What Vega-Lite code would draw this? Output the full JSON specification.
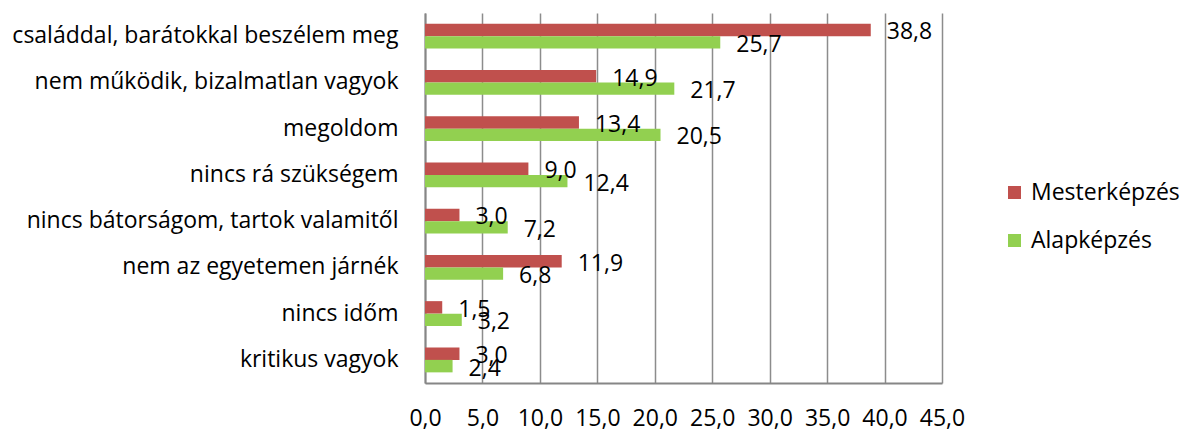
{
  "$schema": "https://vega.github.io/schema/vega-lite/v6.json",
  "width": 517,
  "height": 370,
  "autosize": {"type": "none"},
  "padding": {"left": 425, "top": 13, "right": 241, "bottom": 47},
  "background": "white",
  "config": {
    "locale": {"number": {"decimal": ",", "thousands": " ", "grouping": [3], "currency": ["", ""]}},
    "view": {"stroke": null},
    "font": "Open Sans"
  },
  "data": {
    "values": [
      {"kategoria": "családdal, barátokkal beszélem meg", "kepzes": "Mesterképzés", "ertek": 38.8},
      {"kategoria": "családdal, barátokkal beszélem meg", "kepzes": "Alapképzés", "ertek": 25.7},
      {"kategoria": "nem működik, bizalmatlan vagyok", "kepzes": "Mesterképzés", "ertek": 14.9},
      {"kategoria": "nem működik, bizalmatlan vagyok", "kepzes": "Alapképzés", "ertek": 21.7},
      {"kategoria": "megoldom", "kepzes": "Mesterképzés", "ertek": 13.4},
      {"kategoria": "megoldom", "kepzes": "Alapképzés", "ertek": 20.5},
      {"kategoria": "nincs rá szükségem", "kepzes": "Mesterképzés", "ertek": 9.0},
      {"kategoria": "nincs rá szükségem", "kepzes": "Alapképzés", "ertek": 12.4},
      {"kategoria": "nincs bátorságom, tartok valamitől", "kepzes": "Mesterképzés", "ertek": 3.0},
      {"kategoria": "nincs bátorságom, tartok valamitől", "kepzes": "Alapképzés", "ertek": 7.2},
      {"kategoria": "nem az egyetemen járnék", "kepzes": "Mesterképzés", "ertek": 11.9},
      {"kategoria": "nem az egyetemen járnék", "kepzes": "Alapképzés", "ertek": 6.8},
      {"kategoria": "nincs időm", "kepzes": "Mesterképzés", "ertek": 1.5},
      {"kategoria": "nincs időm", "kepzes": "Alapképzés", "ertek": 3.2},
      {"kategoria": "kritikus vagyok", "kepzes": "Mesterképzés", "ertek": 3.0},
      {"kategoria": "kritikus vagyok", "kepzes": "Alapképzés", "ertek": 2.4}
    ]
  },
  "encoding": {
    "y": {
      "field": "kategoria",
      "type": "nominal",
      "sort": ["családdal, barátokkal beszélem meg", "nem működik, bizalmatlan vagyok", "megoldom", "nincs rá szükségem", "nincs bátorságom, tartok valamitől", "nem az egyetemen járnék", "nincs időm", "kritikus vagyok"],
      "scale": {"paddingInner": 0.46, "paddingOuter": 0.23},
      "axis": {
        "title": null,
        "domainColor": "#868686",
        "domainWidth": 2,
        "ticks": false,
        "labelFontSize": 23,
        "labelPadding": 27,
        "labelColor": "black",
        "labelLimit": 0,
        "labelFont": "Open Sans"
      }
    },
    "yOffset": {
      "field": "kepzes",
      "type": "nominal",
      "sort": ["Mesterképzés", "Alapképzés"],
      "scale": {"paddingInner": 0, "paddingOuter": 0}
    },
    "x": {
      "field": "ertek",
      "type": "quantitative",
      "scale": {"domain": [0, 45], "nice": false},
      "axis": {
        "title": null,
        "values": [0, 5, 10, 15, 20, 25, 30, 35, 40, 45],
        "format": ".1f",
        "grid": true,
        "gridColor": "#8c8c8c",
        "gridWidth": 1.5,
        "domainColor": "#868686",
        "domainWidth": 2,
        "ticks": false,
        "tickSize": 0,
        "labelFontSize": 23,
        "labelPadding": 35,
        "labelBaseline": "middle",
        "labelColor": "black",
        "labelFlush": false,
        "labelOverlap": false,
        "labelFont": "Open Sans"
      }
    }
  },
  "layer": [
    {
      "mark": {"type": "bar"},
      "encoding": {
        "color": {
          "field": "kepzes",
          "type": "nominal",
          "scale": {"domain": ["Mesterképzés", "Alapképzés"], "range": ["#C0504D", "#92D050"]},
          "legend": {
            "orient": "none",
            "legendX": 578,
            "legendY": 168,
            "title": null,
            "padding": 0,
            "symbolType": "square",
            "symbolSize": 169,
            "symbolStrokeWidth": 0,
            "labelFontSize": 23,
            "labelFont": "Open Sans",
            "labelColor": "black",
            "labelOffset": 5,
            "rowPadding": 24
          }
        }
      }
    },
    {
      "mark": {"type": "text", "align": "left", "baseline": "middle", "dx": 16, "dy": 2.5, "fontSize": 23, "font": "Open Sans", "color": "black"},
      "encoding": {
        "text": {"field": "ertek", "type": "quantitative", "format": ".1f"}
      }
    }
  ]
}
